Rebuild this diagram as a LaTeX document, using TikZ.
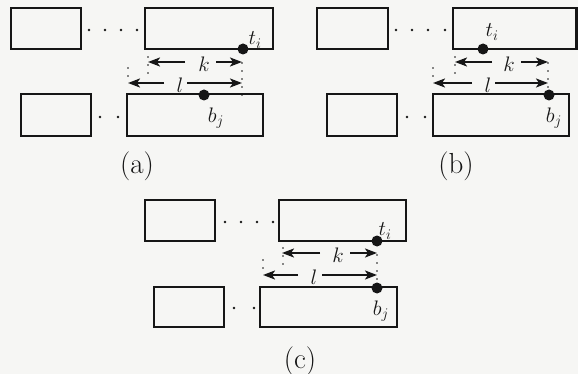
\documentclass[tikz,border=0pt]{standalone}
\usetikzlibrary{arrows.meta}
\DeclareFontShape{OML}{cmm}{m}{it}{<-8.5> cmmi7 <8.5-11> cmmi10 <11-> cmmi12}{}
\definecolor{bg}{RGB}{246,246,244}
\definecolor{ink}{RGB}{22,22,22}
\newcommand\bx[5]{\node[box, minimum width={#4-#2}, minimum height={#5-#3}] (#1) at ({(#2+#4)/2},{(#3+#5)/2}) {};}
\begin{document}
\begin{tikzpicture}[x=1pt,y=-1pt,
  box/.style={draw=ink, line width=2.4pt, inner sep=0pt},
  bigdot/.style={circle, fill=ink, inner sep=0pt, minimum size=11pt},
  smalldot/.style={circle, fill=ink, inner sep=0pt, minimum size=2.8pt},
  arr/.style={draw=ink, line width=2pt, -{Stealth[length=12pt,width=9pt,inset=3pt]}},
  ext/.style={draw=ink, line width=1.9pt, line cap=round, dash pattern=on 0pt off 8pt},
  lab/.style={font=\fontsize{21}{25}\selectfont, inner sep=0pt, text=ink},
  captext/.style={font=\fontsize{29}{33}\selectfont, inner sep=0pt, text=ink}]
\fill[bg] (0,0) rectangle (578,374);
\useasboundingbox (0,0) rectangle (578,374);

% ---------- (a) ----------
\bx{aTL}{11}{8}{81}{49}
\bx{aTR}{145}{8}{273}{49}
\bx{aBL}{21}{94}{91}{136}
\bx{aBR}{127}{94}{263}{136}
\foreach \x in {89,105,121,137} \node[smalldot] (adt\x) at (\x,30) {};
\foreach \x in {100,118} \node[smalldot] (adb\x) at (\x,117) {};
\draw[ext] (148,57) -- (148,78);
\draw[ext] (128,68) -- (128,76);
\draw[ext] (242,63) -- (242,100);
\node[bigdot] (ati) at (243,49) {};
\node[lab] (atil) at (255,40) {$t_i$};
\node[bigdot] (abj) at (204,95) {};
\node[lab] (abjl) at (216,118) {$b_j$};
\node[lab] (ak) at (204,64) {$k$};
\node[lab] (al) at (180,85) {$l$};
\coordinate (akA) at (185,62); \coordinate (akL) at (148,62);
\coordinate (akB) at (216,62); \coordinate (akR) at (242,62);
\coordinate (alA) at (164,83); \coordinate (alL) at (128,83);
\coordinate (alB) at (187,83); \coordinate (alR) at (242,83);
\draw[arr] (akA) -- (akL); \draw[arr] (akB) -- (akR);
\draw[arr] (alA) -- (alL); \draw[arr] (alB) -- (alR);
\node[captext] (capa) at (137,166) {(a)};

% ---------- (b) ----------
\bx{bTL}{317}{8}{388}{49}
\bx{bTR}{453}{8}{576.5}{49}
\bx{bBL}{327}{94}{397}{136}
\bx{bBR}{433}{94}{569}{136}
\foreach \x in {396,412,428,445} \node[smalldot] (bdt\x) at (\x,30) {};
\foreach \x in {407,425} \node[smalldot] (bdb\x) at (\x,117) {};
\draw[ext] (455,57) -- (455,78);
\draw[ext] (433,68) -- (433,76);
\draw[ext] (548,63) -- (548,90);
\node[bigdot] (bti) at (483,49) {};
\node[lab] (btil) at (492,32) {$t_i$};
\node[bigdot] (bbj) at (549,95) {};
\node[lab] (bbjl) at (554,118) {$b_j$};
\node[lab] (bk) at (509,64) {$k$};
\node[lab] (bl) at (488,85) {$l$};
\coordinate (bkA) at (492,62); \coordinate (bkL) at (455,62);
\coordinate (bkB) at (521,62); \coordinate (bkR) at (548,62);
\coordinate (blA) at (472,83); \coordinate (blL) at (433,83);
\coordinate (blB) at (495,83); \coordinate (blR) at (548,83);
\draw[arr] (bkA) -- (bkL); \draw[arr] (bkB) -- (bkR);
\draw[arr] (blA) -- (blL); \draw[arr] (blB) -- (blR);
\node[captext] (capb) at (456,166) {(b)};

% ---------- (c) ----------
\bx{cTL}{145}{200}{215}{241}
\bx{cTR}{279}{200}{406}{241}
\bx{cBL}{154}{287}{224}{327}
\bx{cBR}{260}{287}{397}{327}
\foreach \x in {225,241,257,273} \node[smalldot] (cdt\x) at (\x,222) {};
\foreach \x in {234,254} \node[smalldot] (cdb\x) at (\x,308) {};
\draw[ext] (283,248) -- (283,271);
\draw[ext] (263,260) -- (263,268);
\draw[ext] (377,255) -- (377,280);
\node[bigdot] (cti) at (377,241) {};
\node[lab] (ctil) at (385,231) {$t_i$};
\node[bigdot] (cbj) at (377,288) {};
\node[lab] (cbjl) at (381,311) {$b_j$};
\node[lab] (ck) at (338,255) {$k$};
\node[lab] (cl) at (314,277) {$l$};
\coordinate (ckA) at (320,253); \coordinate (ckL) at (282,253);
\coordinate (ckB) at (350,253); \coordinate (ckR) at (377,253);
\coordinate (clA) at (298,275); \coordinate (clL) at (263,275);
\coordinate (clB) at (322,275); \coordinate (clR) at (377,275);
\draw[arr] (ckA) -- (ckL); \draw[arr] (ckB) -- (ckR);
\draw[arr] (clA) -- (clL); \draw[arr] (clB) -- (clR);
\node[captext] (capc) at (300,361) {(c)};
\end{tikzpicture}
\end{document}
